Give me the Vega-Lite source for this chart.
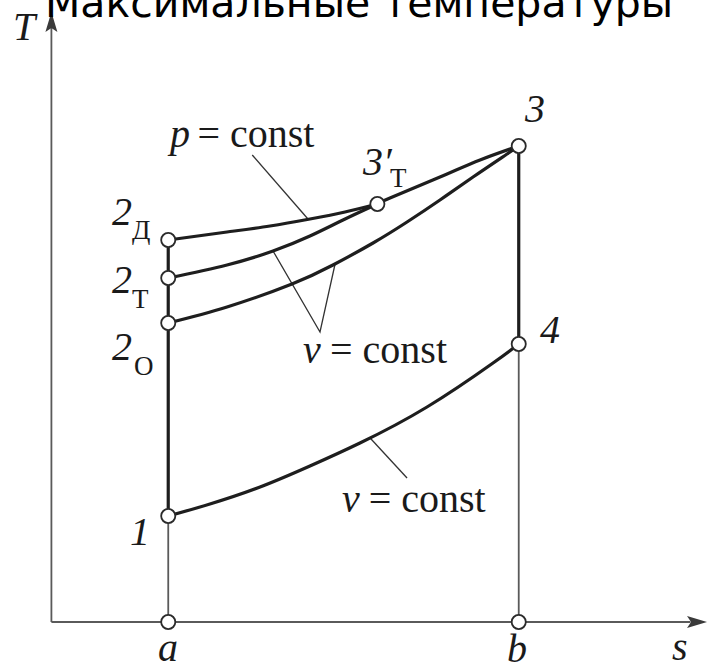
{
  "$schema": "https://vega.github.io/schema/vega-lite/v6.json",
  "width": 708,
  "height": 667,
  "padding": 0,
  "autosize": {"type": "none"},
  "background": "white",
  "config": {"view": {"stroke": null}},
  "datasets": {
    "paths": [
      {"seg": "axisT", "kind": "thin", "ord": 0, "s": 0, "T": 0},
      {"seg": "axisT", "kind": "thin", "ord": 1, "s": 0, "T": 5.95},
      {"seg": "axisS", "kind": "thin", "ord": 0, "s": 0, "T": 0},
      {"seg": "axisS", "kind": "thin", "ord": 1, "s": 5.47, "T": 0},
      {"seg": "a1", "kind": "thin", "ord": 0, "s": 1, "T": 0},
      {"seg": "a1", "kind": "thin", "ord": 1, "s": 1, "T": 1.06},
      {"seg": "b4", "kind": "thin", "ord": 0, "s": 4, "T": 0},
      {"seg": "b4", "kind": "thin", "ord": 1, "s": 4, "T": 2.78},
      {"seg": "s12", "kind": "thick", "ord": 0, "s": 1, "T": 1.06},
      {"seg": "s12", "kind": "thick", "ord": 1, "s": 1, "T": 3.82},
      {"seg": "s34", "kind": "thick", "ord": 0, "s": 4, "T": 4.76},
      {"seg": "s34", "kind": "thick", "ord": 1, "s": 4, "T": 2.78},
      {"seg": "leadP", "kind": "leader", "ord": 0, "s": 1.719, "T": 4.67},
      {"seg": "leadP", "kind": "leader", "ord": 1, "s": 2.196, "T": 4.03},
      {"seg": "leadV", "kind": "leader", "ord": 0, "s": 1.897, "T": 3.71},
      {"seg": "leadV", "kind": "leader", "ord": 1, "s": 2.299, "T": 2.90},
      {"seg": "leadV", "kind": "leader", "ord": 2, "s": 2.428, "T": 3.58},
      {"seg": "leadV2", "kind": "leader", "ord": 0, "s": 2.728, "T": 1.84},
      {"seg": "leadV2", "kind": "leader", "ord": 1, "s": 3.044, "T": 1.44},
      {"seg": "v14", "kind": "curve", "ord": 0, "s": 1, "T": 1.06},
      {"seg": "v14", "kind": "curve", "ord": 1, "s": 1.357, "T": 1.18},
      {"seg": "v14", "kind": "curve", "ord": 2, "s": 1.786, "T": 1.35},
      {"seg": "v14", "kind": "curve", "ord": 3, "s": 2.213, "T": 1.56},
      {"seg": "v14", "kind": "curve", "ord": 4, "s": 2.641, "T": 1.79},
      {"seg": "v14", "kind": "curve", "ord": 5, "s": 3.215, "T": 2.15},
      {"seg": "v14", "kind": "curve", "ord": 6, "s": 3.78, "T": 2.59},
      {"seg": "v14", "kind": "curve", "ord": 7, "s": 4, "T": 2.78},
      {"seg": "v2o3", "kind": "curve", "ord": 0, "s": 1, "T": 2.99},
      {"seg": "v2o3", "kind": "curve", "ord": 1, "s": 1.503, "T": 3.15},
      {"seg": "v2o3", "kind": "curve", "ord": 2, "s": 2.059, "T": 3.38},
      {"seg": "v2o3", "kind": "curve", "ord": 3, "s": 2.41, "T": 3.57},
      {"seg": "v2o3", "kind": "curve", "ord": 4, "s": 2.753, "T": 3.79},
      {"seg": "v2o3", "kind": "curve", "ord": 5, "s": 3.044, "T": 4.0},
      {"seg": "v2o3", "kind": "curve", "ord": 6, "s": 3.326, "T": 4.22},
      {"seg": "v2o3", "kind": "curve", "ord": 7, "s": 3.609, "T": 4.45},
      {"seg": "v2o3", "kind": "curve", "ord": 8, "s": 3.9, "T": 4.68},
      {"seg": "v2o3", "kind": "curve", "ord": 9, "s": 4, "T": 4.76},
      {"seg": "v2t3t", "kind": "curve", "ord": 0, "s": 1, "T": 3.44},
      {"seg": "v2t3t", "kind": "curve", "ord": 1, "s": 1.503, "T": 3.57},
      {"seg": "v2t3t", "kind": "curve", "ord": 2, "s": 1.897, "T": 3.71},
      {"seg": "v2t3t", "kind": "curve", "ord": 3, "s": 2.213, "T": 3.86},
      {"seg": "v2t3t", "kind": "curve", "ord": 4, "s": 2.496, "T": 4.02},
      {"seg": "v2t3t", "kind": "curve", "ord": 5, "s": 2.79, "T": 4.18},
      {"seg": "p2d3t", "kind": "curve", "ord": 0, "s": 1, "T": 3.82},
      {"seg": "p2d3t", "kind": "curve", "ord": 1, "s": 1.503, "T": 3.90},
      {"seg": "p2d3t", "kind": "curve", "ord": 2, "s": 1.871, "T": 3.96},
      {"seg": "p2d3t", "kind": "curve", "ord": 3, "s": 2.213, "T": 4.03},
      {"seg": "p2d3t", "kind": "curve", "ord": 4, "s": 2.513, "T": 4.10},
      {"seg": "p2d3t", "kind": "curve", "ord": 5, "s": 2.79, "T": 4.18},
      {"seg": "p3t3", "kind": "curve", "ord": 0, "s": 2.79, "T": 4.18},
      {"seg": "p3t3", "kind": "curve", "ord": 1, "s": 2.898, "T": 4.24},
      {"seg": "p3t3", "kind": "curve", "ord": 2, "s": 3.326, "T": 4.45},
      {"seg": "p3t3", "kind": "curve", "ord": 3, "s": 3.669, "T": 4.62},
      {"seg": "p3t3", "kind": "curve", "ord": 4, "s": 4, "T": 4.76}
    ],
    "states": [
      {"name": "a", "s": 1, "T": 0},
      {"name": "b", "s": 4, "T": 0},
      {"name": "1", "s": 1, "T": 1.06},
      {"name": "2о", "s": 1, "T": 2.99},
      {"name": "2т", "s": 1, "T": 3.44},
      {"name": "2д", "s": 1, "T": 3.82},
      {"name": "3'т", "s": 2.79, "T": 4.18},
      {"name": "3", "s": 4, "T": 4.76},
      {"name": "4", "s": 4, "T": 2.78}
    ],
    "arrows": [
      {"dir": "up", "s": 0, "T": 6.0},
      {"dir": "right", "s": 5.526, "T": 0}
    ],
    "labels": [
      {"cls": "it", "label": "T", "s": -0.329, "T": 5.82},
      {"cls": "it", "label": "3", "s": 4.054, "T": 5.0},
      {"cls": "it", "label": "3′", "s": 2.667, "T": 4.47},
      {"cls": "it", "label": "2", "s": 0.519, "T": 3.97},
      {"cls": "it", "label": "2", "s": 0.519, "T": 3.29},
      {"cls": "it", "label": "2", "s": 0.519, "T": 2.62},
      {"cls": "it", "label": "4", "s": 4.183, "T": 2.79},
      {"cls": "it", "label": "1", "s": 0.673, "T": 0.77},
      {"cls": "it", "label": "a", "s": 0.912, "T": -0.39},
      {"cls": "it", "label": "b", "s": 3.9, "T": -0.40},
      {"cls": "it", "label": "s", "s": 5.312, "T": -0.38},
      {"cls": "it", "label": "p", "s": 1.015, "T": 4.75},
      {"cls": "it", "label": "v", "s": 2.154, "T": 2.59},
      {"cls": "it", "label": "v", "s": 2.487, "T": 1.10},
      {"cls": "word", "label": "= const", "s": 1.25, "T": 4.75},
      {"cls": "word", "label": "= const", "s": 2.385, "T": 2.59},
      {"cls": "word", "label": "= const", "s": 2.716, "T": 1.10},
      {"cls": "sub", "label": "Д", "s": 0.69, "T": 3.83},
      {"cls": "sub", "label": "Т", "s": 0.69, "T": 3.14},
      {"cls": "sub", "label": "О", "s": 0.708, "T": 2.47},
      {"cls": "sub", "label": "Т", "s": 2.898, "T": 4.35},
      {"cls": "title", "label": "Максимальные температуры", "s": 2.633, "T": 6.05}
    ]
  },
  "encoding": {
    "x": {"field": "s", "type": "quantitative", "scale": {"domain": [-0.44, 5.62], "nice": false, "zero": false}, "axis": null},
    "y": {"field": "T", "type": "quantitative", "scale": {"domain": [-0.45, 6.22], "nice": false, "zero": false}, "axis": null}
  },
  "layer": [
    {
      "data": {"name": "paths"},
      "transform": [{"filter": "datum.kind === 'thin'"}],
      "mark": {"type": "line", "stroke": "#5a5a5a", "strokeWidth": 1.8},
      "encoding": {"detail": {"field": "seg"}, "order": {"field": "ord"}}
    },
    {
      "data": {"name": "paths"},
      "transform": [{"filter": "datum.kind === 'leader'"}],
      "mark": {"type": "line", "stroke": "#333333", "strokeWidth": 1.3},
      "encoding": {"detail": {"field": "seg"}, "order": {"field": "ord"}}
    },
    {
      "data": {"name": "paths"},
      "transform": [{"filter": "datum.kind === 'thick'"}],
      "mark": {"type": "line", "stroke": "#1e1e1e", "strokeWidth": 3.2},
      "encoding": {"detail": {"field": "seg"}, "order": {"field": "ord"}}
    },
    {
      "data": {"name": "paths"},
      "transform": [{"filter": "datum.kind === 'curve'"}],
      "mark": {"type": "line", "stroke": "#1e1e1e", "strokeWidth": 3.2, "interpolate": "natural", "strokeCap": "round"},
      "encoding": {"detail": {"field": "seg"}, "order": {"field": "ord"}}
    },
    {
      "data": {"name": "arrows"},
      "mark": {"type": "point", "filled": true, "color": "#3a3a3a", "opacity": 1, "size": 400},
      "encoding": {
        "shape": {
          "field": "dir",
          "type": "nominal",
          "scale": {"domain": ["up", "right"], "range": ["M0,-1L0.6,1L0,0.6L-0.6,1Z", "M1,0L-1,0.6L-0.6,0L-1,-0.6Z"]},
          "legend": null
        }
      }
    },
    {
      "data": {"name": "states"},
      "mark": {"type": "point", "shape": "circle", "filled": false, "fill": "white", "fillOpacity": 1, "stroke": "#2a2a2a", "strokeWidth": 1.8, "opacity": 1, "size": 200}
    },
    {
      "data": {"name": "labels"},
      "transform": [{"filter": "datum.cls === 'it'"}],
      "mark": {"type": "text", "font": "Liberation Serif", "fontStyle": "italic", "fontSize": 40, "align": "left", "baseline": "alphabetic", "color": "#1a1a1a"},
      "encoding": {"text": {"field": "label"}}
    },
    {
      "data": {"name": "labels"},
      "transform": [{"filter": "datum.cls === 'word'"}],
      "mark": {"type": "text", "font": "Liberation Serif", "fontSize": 40, "align": "left", "baseline": "alphabetic", "color": "#1a1a1a"},
      "encoding": {"text": {"field": "label"}}
    },
    {
      "data": {"name": "labels"},
      "transform": [{"filter": "datum.cls === 'sub'"}],
      "mark": {"type": "text", "font": "Liberation Serif", "fontSize": 27, "align": "left", "baseline": "alphabetic", "color": "#1a1a1a"},
      "encoding": {"text": {"field": "label"}}
    },
    {
      "data": {"name": "labels"},
      "transform": [{"filter": "datum.cls === 'title'"}],
      "mark": {"type": "text", "font": "DejaVu Sans", "fontSize": 41, "align": "center", "baseline": "alphabetic", "color": "#000000"},
      "encoding": {"text": {"field": "label"}}
    }
  ]
}
